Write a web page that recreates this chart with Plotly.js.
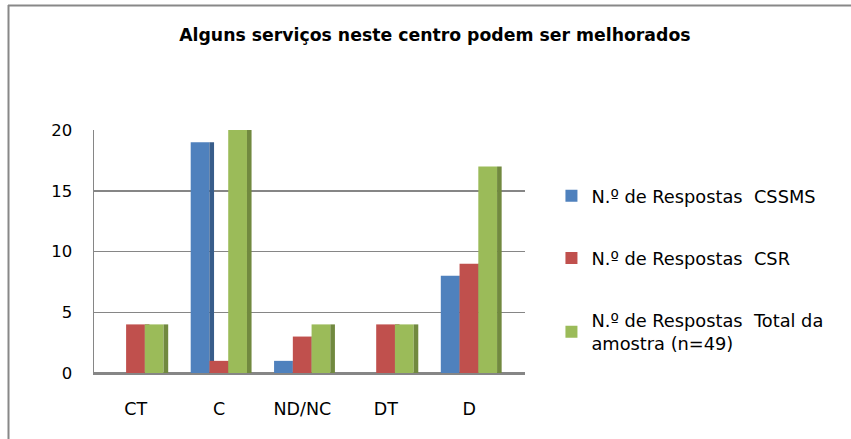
<!DOCTYPE html>
<html>
<head>
<meta charset="utf-8">
<script src="https://cdn.plot.ly/plotly-3.0.1.min.js"></script>
<style>html,body{margin:0;padding:0;background:#fff;}#chart{width:851px;height:439px;}</style>
</head>
<body>
<div id="chart"></div>
<script>
const categories = ["CT", "C", "ND/NC", "DT", "D"];
const seriesNames = ["N.º de Respostas  CSSMS", "N.º de Respostas  CSR", "N.º de Respostas  Total da<br>amostra (n=49)"];
const cssms = [0, 19, 1, 0, 8];
const csr = [4, 1, 3, 4, 9];
const total = [4, 20, 4, 4, 17];
const yTicks = [0, 5, 10, 15, 20];

const series = [cssms, csr, total];
const faceColors = ["#4F81BD", "#C0504D", "#9BBB59"];
const sideColors = ["#385D8A", "#8C3836", "#71893F"];
const barW = 0.225;
const sideW = 0.055;
const offsets = [-0.34, -0.115, 0.11];
const font = "DejaVu Sans, sans-serif";

const traces = [];
series.forEach((vals, i) => {
  traces.push({
    type: "bar", x: categories, y: vals, name: seriesNames[i],
    width: barW, offset: offsets[i],
    marker: {color: faceColors[i]}, legendgroup: "g" + i,
    hoverinfo: "y"
  });
  traces.push({
    type: "bar", x: categories, y: vals, showlegend: false,
    width: sideW, offset: offsets[i] + barW,
    marker: {color: sideColors[i]}, legendgroup: "g" + i,
    hoverinfo: "skip"
  });
});

const layout = {
  width: 851, height: 439,
  margin: {l: 94, r: 326, t: 130, b: 66},
  paper_bgcolor: "#fff", plot_bgcolor: "#fff",
  barmode: "overlay",
  font: {family: font, color: "#000", size: 15},
  title: {text: "<b>Alguns serviços neste centro podem ser melhorados</b>",
          x: 0.511, xanchor: "center", y: 0.92, yanchor: "middle",
          font: {size: 17.3, family: font, color: "#000"}},
  xaxis: {type: "category", range: [-0.5, 4.67], showgrid: false,
          showline: true, linecolor: "#868686", linewidth: 1.5,
          ticks: "", ticklabelstandoff: 19, tickfont: {size: 17.5}},
  yaxis: {range: [0, 20], tickvals: yTicks, ticktext: yTicks.map(String),
          showgrid: true, gridcolor: "#868686", gridwidth: 1.5,
          zeroline: true, zerolinecolor: "#868686", zerolinewidth: 1.5,
          showline: true, linecolor: "#868686", linewidth: 1.5,
          ticks: "", ticklabelstandoff: 17, tickfont: {size: 16.5}},
  legend: {xref: "container", yref: "container", x: 0.648, y: 0.595,
           xanchor: "left", yanchor: "top",
           font: {size: 17.8, family: font}, tracegroupgap: 36,
           traceorder: "grouped", itemwidth: 30, bgcolor: "rgba(0,0,0,0)"},
  showlegend: true
};
Plotly.newPlot("chart", traces, layout, {displayModeBar: false, staticPlot: true}).then(() => {
  const svg = document.querySelector("#chart .main-svg");
  const ns = "http://www.w3.org/2000/svg";
  const g = document.createElementNS(ns, "g");
  [[8, 5.5, 851, 5.5], [8.5, 5, 8.5, 439]].forEach(c => {
    const l = document.createElementNS(ns, "line");
    l.setAttribute("x1", c[0]); l.setAttribute("y1", c[1]);
    l.setAttribute("x2", c[2]); l.setAttribute("y2", c[3]);
    l.setAttribute("stroke", "#888"); l.setAttribute("stroke-width", "2");
    g.appendChild(l);
  });
  svg.appendChild(g);
});
</script>
</body>
</html>
